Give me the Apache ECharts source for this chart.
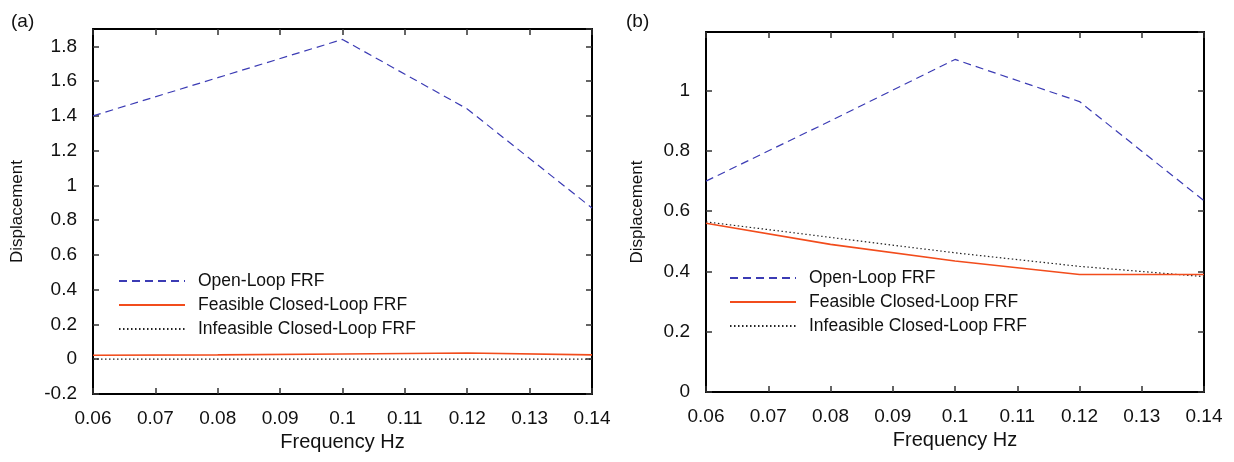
<!DOCTYPE html>
<html>
<head>
<meta charset="utf-8">
<script src="https://cdn.jsdelivr.net/npm/echarts@6/dist/echarts.min.js"></script>
<style>
  html, body { margin: 0; padding: 0; background: #fff; }
  #chart { width: 1234px; height: 462px; }
</style>
</head>
<body>
<div id="chart"></div>
<script>
// frequency points shared by both panels
const freq = [0.06, 0.08, 0.1, 0.12, 0.14]

// panel (a)
const openA = [1.40, 1.62, 1.84, 1.44, 0.87]
const feasA = [0.023, 0.025, 0.030, 0.036, 0.025]
const infeasA = [0.001, 0.001, 0.001, 0.001, 0.001]

// panel (b)
const openB = [0.70, 0.90, 1.104, 0.964, 0.635]
const feasB = [0.56, 0.49, 0.435, 0.39, 0.39]
const infeasB = [0.565, 0.513, 0.462, 0.417, 0.383]

const names = ['Open-Loop FRF', 'Feasible Closed-Loop FRF', 'Infeasible Closed-Loop FRF']

const font = "'Liberation Sans', Arial, sans-serif"
const pair = (ys) => freq.map((f, i) => [f, ys[i]])

const lineStyles = [
    { color: '#3b3bb4', width: 1.2, type: [8, 5] },
    { color: '#f24c1c', width: 1.6, type: 'solid' },
    { color: '#222', width: 1.2, type: [1.5, 2.5] }
]

const tick = { show: true, inside: true, length: 6, lineStyle: { color: '#333', width: 1.5 } }
const axisLine = { show: true, onZero: false, lineStyle: { color: '#000', width: 2 } }

function xAxes(grid) {
    return [{
        gridIndex: grid, type: 'value', position: 'bottom',
        min: 0.06, max: 0.14, interval: 0.01,
        axisLine: axisLine, axisTick: tick,
        axisLabel: { fontSize: 19, color: '#111', fontFamily: font, margin: 15,
            formatter: v => String(+v.toFixed(2)) },
        splitLine: { show: false },
        name: 'Frequency Hz', nameLocation: 'middle', nameGap: 38,
        nameTextStyle: { fontSize: 20, color: '#111', fontFamily: font }
    }, {
        gridIndex: grid, type: 'value', position: 'top',
        min: 0.06, max: 0.14, interval: 0.01,
        axisLine: axisLine, axisTick: tick,
        axisLabel: { show: false },
        splitLine: { show: false }
    }]
}

function yAxes(grid, min, max, gap) {
    return [{
        gridIndex: grid, type: 'value', position: 'left',
        min: min, max: max, interval: 0.2,
        axisLine: axisLine, axisTick: tick,
        axisLabel: { fontSize: 19, color: '#111', fontFamily: font, margin: 16,
            showMaxLabel: false, formatter: v => String(+v.toFixed(1)) },
        splitLine: { show: false },
        name: 'Displacement', nameLocation: 'middle', nameGap: gap,
        nameTextStyle: { fontSize: 17, color: '#111', fontFamily: font }
    }, {
        gridIndex: grid, type: 'value', position: 'right',
        min: min, max: max, interval: 0.2,
        axisLine: axisLine, axisTick: tick,
        axisLabel: { show: false },
        splitLine: { show: false }
    }]
}

function seriesFor(grid, sets) {
    return sets.map((ys, i) => ({
        name: names[i], type: 'line',
        xAxisIndex: grid * 2, yAxisIndex: grid * 2,
        data: pair(ys), symbol: 'none', lineStyle: lineStyles[i],
        itemStyle: { color: lineStyles[i].color },
        z: 3 - i
    }))
}

function legend(left, top) {
    return {
        orient: 'vertical', left: left, top: top, padding: 0,
        itemWidth: 66, itemHeight: 12, itemGap: 6,
        itemStyle: { opacity: 0 },
        data: names,
        textStyle: { fontSize: 17.5, color: '#111', fontFamily: font, padding: [0, 0, 0, 8] }
    }
}

const chart = echarts.init(document.getElementById('chart'), null, { renderer: 'canvas' })
chart.setOption({
    animation: false,
    backgroundColor: '#fff',
    title: [
        { text: '(a)', left: 6, top: 7, textStyle: { fontSize: 19, fontWeight: 'normal', color: '#111', fontFamily: font } },
        { text: '(b)', left: 621, top: 7, textStyle: { fontSize: 19, fontWeight: 'normal', color: '#111', fontFamily: font } }
    ],
    grid: [
        { left: 93, right: 642, top: 29, bottom: 68 },
        { left: 706, right: 30, top: 32, bottom: 70 }
    ],
    legend: [legend(118, 272), legend(729, 269)],
    xAxis: xAxes(0).concat(xAxes(1)),
    yAxis: yAxes(0, -0.2, 1.9, 67).concat(yAxes(1, 0, 1.195, 60)),
    series: seriesFor(0, [openA, feasA, infeasA]).concat(seriesFor(1, [openB, feasB, infeasB]))
})
</script>
</body>
</html>
